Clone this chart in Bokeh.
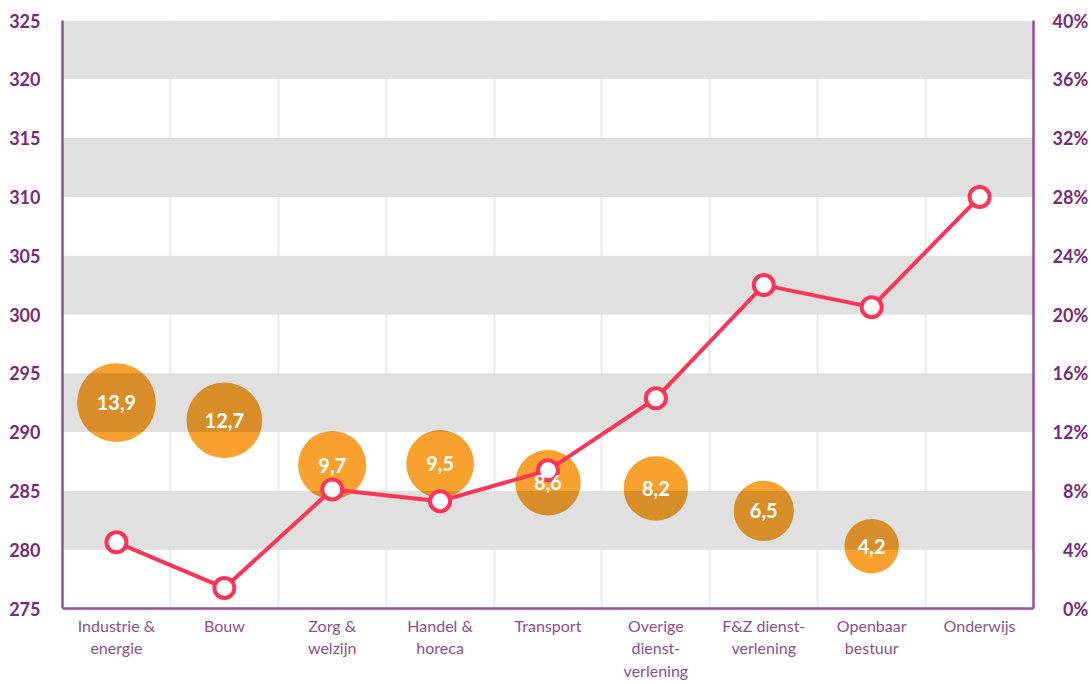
from bokeh.plotting import figure
from bokeh.models import Range1d, LinearAxis, FixedTicker, ColumnDataSource
from bokeh.core.properties import value
from bokeh.embed import file_html
from bokeh.resources import INLINE

# ---- data ----
categories = ["Industrie &\nenergie", "Bouw", "Zorg &\nwelzijn", "Handel &\nhoreca",
              "Transport", "Overige\ndienst-\nverlening", "F&Z dienst-\nverlening",
              "Openbaar\nbestuur", "Onderwijs"]
line_pct = [4.5, 1.4, 8.1, 7.3, 9.4, 14.3, 22.0, 20.5, 28.0]
bubble_values = [13.9, 12.7, 9.7, 9.5, 8.6, 8.2, 6.5, 4.2]
bubble_y = [292.5, 291.0, 287.2, 287.3, 285.7, 285.2, 283.3, 280.3]
bubble_labels = ["13,9", "12,7", "9,7", "9,5", "8,6", "8,2", "6,5", "4,2"]
left_ticks = [275, 280, 285, 290, 295, 300, 305, 310, 315, 320, 325]
right_ticks = [0, 4, 8, 12, 16, 20, 24, 28, 32, 36, 40]

PURPLE = "#7a2a7a"
AXIS = "#9b4d9b"
XLAB = "#8e4f8e"
ORANGE = "#f8a12e"
RED = "#ff3355"
FONT = "Lato"

n = len(categories)
xc = [i + 0.5 for i in range(n)]

p = figure(width=1091, height=684, output_backend="svg", toolbar_location=None,
           x_range=Range1d(0, n), y_range=Range1d(275, 325),
           min_border_left=62, min_border_right=57, min_border_top=20, min_border_bottom=76,
           background_fill_color="white", border_fill_color="white")
p.outline_line_color = None
p.extra_y_ranges = {"pct": Range1d(0, 40)}

# grids
p.ygrid.grid_line_color = None
p.xgrid.ticker = FixedTicker(ticks=list(range(1, n)))
p.xgrid.grid_line_color = "#ececec"
p.xgrid.grid_line_width = 2

# band rows (white opaque under bubbles to hide grid lines)
band_bottoms = [v for v in left_ticks[1:-1:2]]
band_tops = [v + 5 for v in band_bottoms]
p.quad(left=0, right=n, bottom=band_bottoms, top=band_tops, fill_color="white", line_color=None)

# bubbles
sizes = [44 + 2.5 * v for v in bubble_values]
bsrc = ColumnDataSource(dict(x=xc[:len(bubble_values)], y=bubble_y, s=sizes, t=bubble_labels))
p.scatter("x", "y", size="s", source=bsrc, fill_color=ORANGE, line_color=None)

# gray bands (multiply-like darkening)
p.quad(left=0, right=n, bottom=band_bottoms, top=band_tops, fill_color="black",
       fill_alpha=0.12, line_color=None)

# line
p.line(xc, line_pct, y_range_name="pct", line_color=RED, line_width=4)
p.scatter(xc, line_pct, y_range_name="pct", size=20, fill_color="white", line_color=RED, line_width=4)

p.text("x", "y", text="t", source=bsrc, text_color="white", text_font=value(FONT),
       text_font_style="bold", text_font_size="20px", text_align="center", text_baseline="middle")

# axes
la = p.yaxis[0]
la.ticker = FixedTicker(ticks=left_ticks)
la.axis_line_color = AXIS
la.axis_line_width = 2.5
la.major_tick_line_color = None
la.minor_tick_line_color = None
la.major_label_text_color = PURPLE
la.major_label_text_font = FONT
la.major_label_text_font_style = "bold"
la.major_label_text_font_size = "18px"
la.major_label_standoff = 16

ra = LinearAxis(y_range_name="pct", ticker=FixedTicker(ticks=right_ticks))
ra.major_label_overrides = {t: ("\u2007" if t < 10 else "") + f"{t}%" for t in right_ticks}
ra.axis_line_color = AXIS
ra.axis_line_width = 2.5
ra.major_tick_line_color = None
ra.minor_tick_line_color = None
ra.major_label_text_color = PURPLE
ra.major_label_text_font = FONT
ra.major_label_text_font_style = "bold"
ra.major_label_text_font_size = "18px"
ra.major_label_standoff = 13
p.add_layout(ra, "right")

xa = p.xaxis[0]
xa.ticker = FixedTicker(ticks=xc)
xa.major_label_overrides = {x: c for x, c in zip(xc, categories)}
xa.axis_line_color = AXIS
xa.axis_line_width = 2.5
xa.major_tick_line_color = None
xa.minor_tick_line_color = None
xa.major_label_text_color = XLAB
xa.major_label_text_font = FONT
xa.major_label_text_font_size = "16px"
xa.major_label_standoff = 1

open("out.html", "w").write(file_html(p, INLINE))
